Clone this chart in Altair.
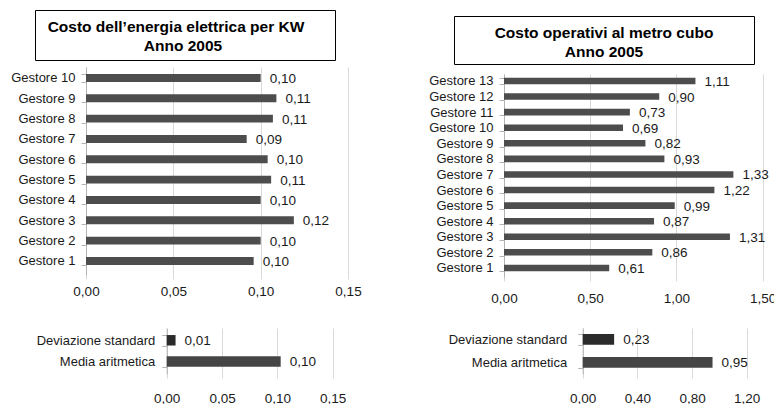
import altair as alt
import pandas as pd

FONT = "Liberation Sans"
TESTO = "#1a1a1a"
GRIGIO_ASSE = "#b3b3b3"
GRIGIO_GRIGLIA = "#d9d9d9"
LARGHEZZA, ALTEZZA = 774, 404
VIRGOLA = "replace(format({}, '.2f'), '.', ',')"

# Costo dell'energia elettrica per KW - anno 2005
energia_titolo = ["Costo dell\u2019energia elettrica per KW", "Anno 2005"]
energia_gestori = ["Gestore 1", "Gestore 2", "Gestore 3", "Gestore 4", "Gestore 5",
                   "Gestore 6", "Gestore 7", "Gestore 8", "Gestore 9", "Gestore 10"]
energia_costo = [0.096, 0.100, 0.119, 0.100, 0.106, 0.104, 0.092, 0.107, 0.109, 0.100]
energia_ticks = [0.0, 0.05, 0.10, 0.15]

# Costo operativi al metro cubo - anno 2005
operativi_titolo = ["Costo operativi al metro cubo", "Anno 2005"]
operativi_gestori = ["Gestore 1", "Gestore 2", "Gestore 3", "Gestore 4", "Gestore 5",
                     "Gestore 6", "Gestore 7", "Gestore 8", "Gestore 9", "Gestore 10",
                     "Gestore 11", "Gestore 12", "Gestore 13"]
operativi_costo = [0.61, 0.86, 1.31, 0.87, 0.99, 1.22, 1.33, 0.93, 0.82, 0.69, 0.73, 0.90, 1.11]
operativi_ticks = [0.0, 0.5, 1.0, 1.5]

# Statistiche riassuntive (dall'alto verso il basso)
statistiche = ["Deviazione standard", "Media aritmetica"]
energia_stat = [0.008, 0.103]
energia_stat_ticks = [0.0, 0.05, 0.10, 0.15]
operativi_stat = [0.23, 0.95]
operativi_stat_ticks = [0.0, 0.4, 0.8, 1.2]


def pannello(categorie, valori, ordine, ticks, xr, yr, pad_in, pad_out, allinea,
             base_asse, pad_tick, pad_cat, colore):
    dati = pd.DataFrame({"voce": categorie, "valore": valori})
    sx = alt.Scale(domain=[ticks[0], ticks[-1]], range=xr, nice=False, zero=False)
    sy = alt.Scale(domain=ordine, range=yr, paddingInner=pad_in,
                   paddingOuter=pad_out, align=allinea)
    asse_y = alt.Axis(orient="left", offset=-xr[0], title=None, grid=False,
                      domainColor=GRIGIO_ASSE, tickColor=GRIGIO_ASSE, tickSize=5,
                      tickBand="extent", labelPadding=pad_cat, labelFont=FONT,
                      labelFontSize=13, labelColor=TESTO)
    y = alt.Y("voce:N", sort=ordine, scale=sy, axis=asse_y)
    barre = alt.Chart(dati).mark_bar().encode(
        x=alt.X("valore:Q", scale=sx,
                axis=alt.Axis(orient="top", values=ticks, grid=True,
                              gridColor=GRIGIO_GRIGLIA, labels=False, ticks=False,
                              domain=False, title=None)),
        y=y,
        color=colore,
    )
    etichette = alt.Chart(dati).transform_calculate(
        testo=VIRGOLA.format("datum.valore")
    ).mark_text(align="left", baseline="middle", dx=9, dy=1, font=FONT,
                fontSize=13.5, color=TESTO).encode(
        x=alt.X("valore:Q", scale=sx,
                axis=alt.Axis(orient="bottom", offset=base_asse - ALTEZZA,
                              values=ticks, labelExpr=VIRGOLA.format("datum.value"),
                              grid=False, domain=False, tickColor=GRIGIO_GRIGLIA,
                              tickSize=4, labelPadding=pad_tick, labelFont=FONT,
                              labelFontSize=13.5, labelColor=TESTO,
                              labelFlush=False, title=None)),
        y=y,
        text="testo:N",
    )
    return alt.layer(barre, etichette).resolve_scale(x="independent")


def riquadro(righe, x0, x1, y0, y1, centri, basi):
    box = alt.Chart(pd.DataFrame({"t": [righe[0]]})).mark_rect(
        fill="white", stroke="black", strokeWidth=1
    ).encode(x=alt.value(x0), x2=alt.value(x1), y=alt.value(y0), y2=alt.value(y1))
    testi = [
        alt.Chart(pd.DataFrame({"t": [r]})).mark_text(
            font=FONT, fontSize=15.5, fontWeight="bold", baseline="alphabetic",
            align="center", color="black"
        ).encode(x=alt.value(cx), y=alt.value(by), text="t:N")
        for r, cx, by in zip(righe, centri, basi)
    ]
    return [box] + testi


colore_barre = alt.value("#4d4d4d")
colore_stat = alt.condition(alt.datum.voce == statistiche[0],
                            alt.value("#2b2b2b"), alt.value("#454545"))

p_energia = pannello(energia_gestori, energia_costo, energia_gestori[::-1], energia_ticks,
                     [86, 348], [67, 275], 0.61, 0.42, 0.41, 275, 5, 6, colore_barre)
p_operativi = pannello(operativi_gestori, operativi_costo, operativi_gestori[::-1],
                       operativi_ticks, [504, 762.7], [74, 277], 0.58, 0.305, 0.39,
                       277, 10, 6, colore_barre)
p_energia_stat = pannello(statistiche, energia_stat, statistiche, energia_stat_ticks,
                          [166.7, 332.7], [328, 374], 0.505, 0.34, 0.49, 374, 13, 7,
                          colore_stat)
p_operativi_stat = pannello(statistiche, operativi_stat, statistiche, operativi_stat_ticks,
                            [582.7, 746.7], [328, 374], 0.535, 0.27, 0.49, 374, 13, 11,
                            colore_stat)

titoli = (riquadro(energia_titolo, 35.5, 335.5, 10.5, 60.5, [176, 183], [32, 50.7])
          + riquadro(operativi_titolo, 454.5, 754.5, 16.5, 64.5, [604, 604], [37.7, 56.7]))

chart = alt.layer(
    *titoli, p_energia, p_operativi, p_energia_stat, p_operativi_stat
).resolve_scale(
    x="independent", y="independent"
).properties(
    width=LARGHEZZA, height=ALTEZZA,
    autosize=alt.AutoSizeParams(type="none"),
    padding=0, background="white",
).configure_view(stroke=None)

chart.save("out.html", embed_options={"renderer": "svg", "actions": False})
